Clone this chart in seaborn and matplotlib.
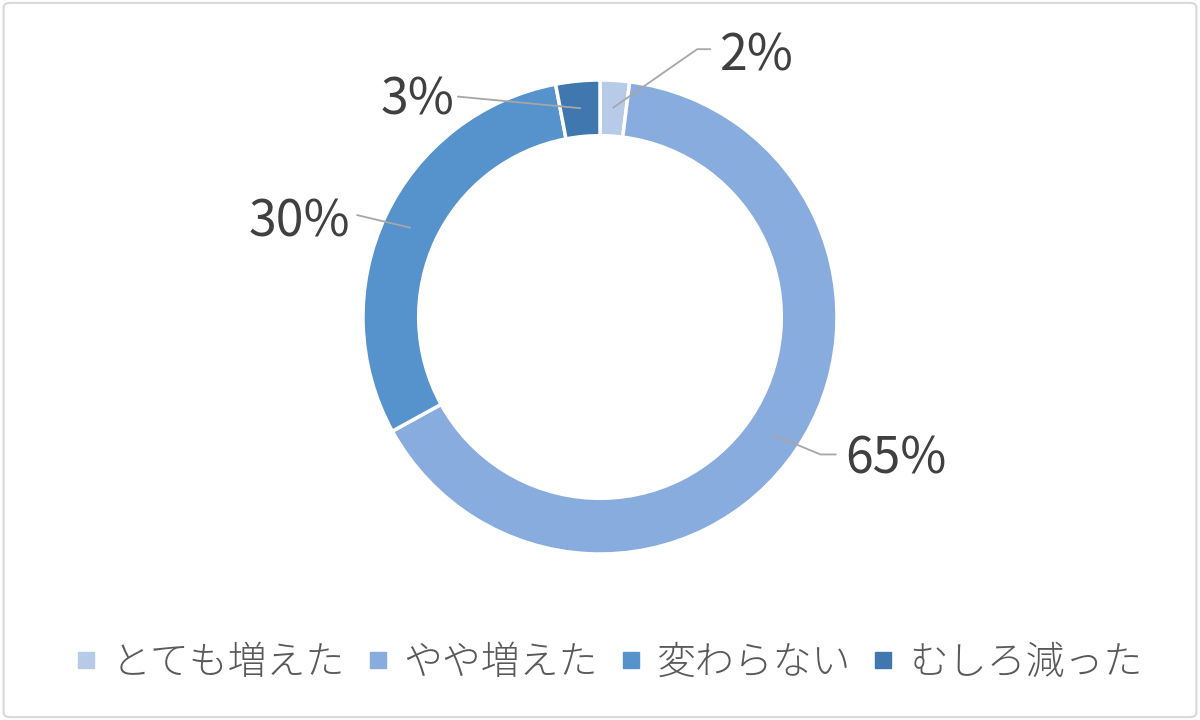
import numpy as np
import matplotlib
matplotlib.use("Agg")
import matplotlib.pyplot as plt
from matplotlib.lines import Line2D
from matplotlib.patches import FancyBboxPatch
import seaborn as sns

# --- Dados ---
categorias = ['とても増えた', 'やや増えた', '変わらない', 'むしろ減った']
valores = [2, 65, 30, 3]
rotulos = ['2%', '65%', '30%', '3%']
cores = ['#B7CBE8', '#88ACDE', '#5692CB', '#3F77AE']

sns.set_theme(style="white")
plt.rcParams['font.family'] = ['Noto Sans CJK JP', 'DejaVu Sans']

fig = plt.figure(figsize=(12, 7.2), dpi=100)

# borda cinza clara em volta do gráfico
borda = FancyBboxPatch((0.003, 0.004), 0.994, 0.992, boxstyle="round,pad=0,rounding_size=0.006",
                       transform=fig.transFigure, fill=False, edgecolor='#D9D9D9', linewidth=1.5)
fig.patches.append(borda)

# eixo quadrado centrado no anel (centro ~ (600, 317) px, raio ~ 237 px)
R = 237
ax = fig.add_axes([(600 - R) / 1200, (720 - 317 - R) / 720, 2 * R / 1200, 2 * R / 720])

wedges, _ = ax.pie(valores, colors=cores, startangle=90, counterclock=False, radius=1.0,
                   wedgeprops=dict(width=0.235, edgecolor='white', linewidth=2.5))
ax.set_xlim(-1, 1)
ax.set_ylim(-1, 1)
ax.set_aspect('equal')
ax.axis('off')

# posições dos rótulos (texto) e cotovelos das linhas guia
pos_texto = [(0.66, 1.10), (1.25, -0.60), (-1.27, 0.40), (-0.77, 0.915)]
fim_linha = [[(0.41, 1.13), (0.465, 1.13)],
             [(0.93, -0.58), (0.995, -0.58)],
             [(-1.025, 0.43)],
             [(-0.60, 0.93)]]

for w, txt, pt, fim in zip(wedges, rotulos, pos_texto, fim_linha):
    ang = np.deg2rad((w.theta1 + w.theta2) / 2)
    r = 0.885
    x0, y0 = r * np.cos(ang), r * np.sin(ang)
    xs = [x0] + [p[0] for p in fim]
    ys = [y0] + [p[1] for p in fim]
    ax.plot(xs, ys, color='#A6A6A6', linewidth=1.3, clip_on=False)
    ax.text(pt[0], pt[1], txt, fontsize=36, color='#404040',
            ha='center', va='center', clip_on=False)

# legenda
handles = [Line2D([0], [0], marker='s', linestyle='', markersize=11, color=c) for c in cores]
fig.legend(handles, categorias, loc='center', bbox_to_anchor=(0.507, 0.079), ncol=4, frameon=False,
           prop={'size': 28, 'weight': 'light'}, labelcolor='#595959',
           handlelength=0.6, handletextpad=0.35, columnspacing=0.55)

plt.savefig('out.png', dpi=100)
